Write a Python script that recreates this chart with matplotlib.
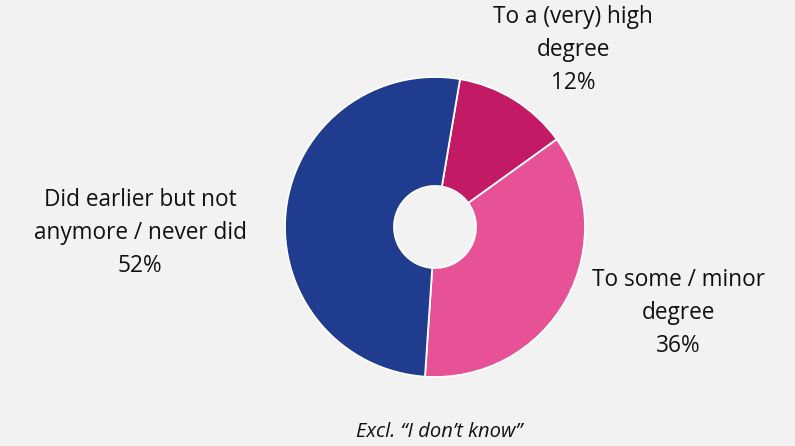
import matplotlib.pyplot as plt

# Data
labels = ["To a (very) high\ndegree", "To some / minor\ndegree", "Did earlier but not\nanymore / never did"]
values = [12.4, 36.0, 51.6]
colors = ["#C21A64", "#E75195", "#1F3C8E"]
footnote = "Excl. \u201cI don\u2019t know\u201d"

plt.rcParams['font.family'] = ['Open Sans', 'DejaVu Sans']

fig = plt.figure(figsize=(7.95, 4.46), dpi=100)
fig.patch.set_facecolor("#F2F2F2")
ax = fig.add_axes([0, 0, 1, 1])
ax.set_facecolor("#F2F2F2")

# pie drawn in pixel-like data coordinates
cx, cy, r = 435, 219, 150
wedges, _ = ax.pie(values, colors=colors, startangle=80.4, counterclock=False,
                   center=(cx, cy), radius=r,
                   wedgeprops=dict(width=r - 41, edgecolor="white", linewidth=1.3))

# labels with percentages
label_pos = [(573, 396), (678, 133), (140, 213)]
for lab, val, (x, y) in zip(labels, values, label_pos):
    ax.text(x, y, f"{lab}\n{val:.0f}%", ha="center", va="center", fontsize=16.3,
            linespacing=1.5, color="#111111")

ax.text(439, 14, footnote, ha="center", va="center", fontsize=14.5,
        style="italic", color="#111111")

ax.set_xlim(0, 795)
ax.set_ylim(0, 446)
ax.set_aspect("equal")
ax.axis("off")

fig.savefig("out.png", dpi=100, facecolor=fig.get_facecolor())
